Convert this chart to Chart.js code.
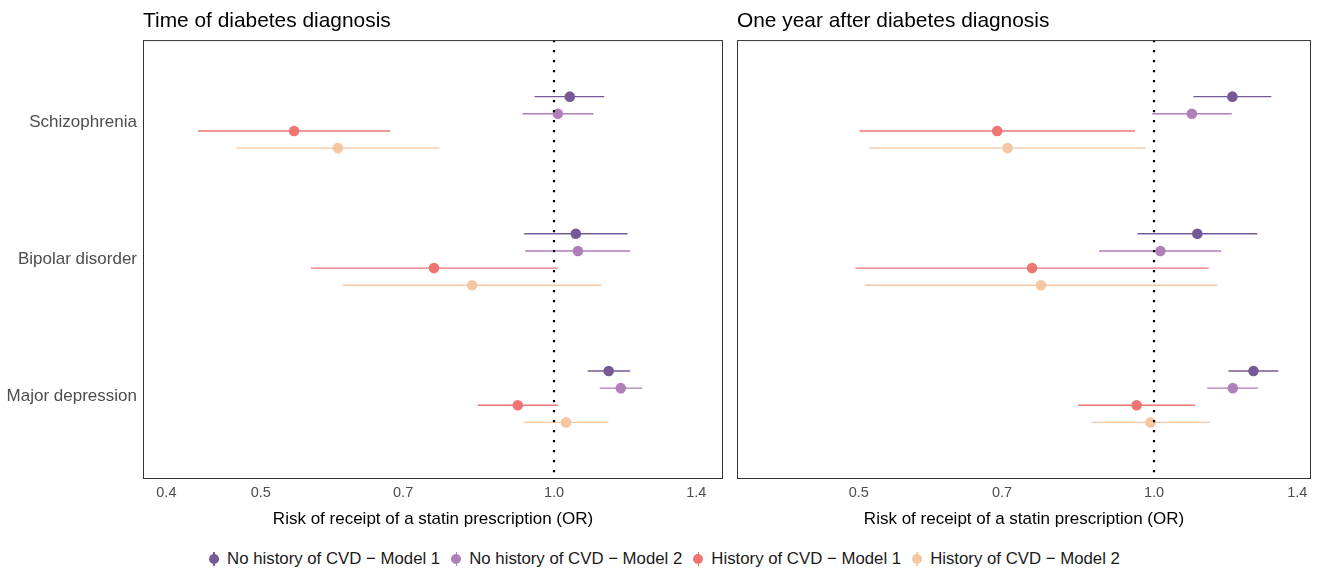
<!DOCTYPE html>
<html lang="en">
<head>
<meta charset="UTF-8">
<script src="https://cdn.jsdelivr.net/npm/chart.js@4"></script>
<title>Statin prescription forest plot</title>
<style>
  body { margin: 0; background: #fff; font-family: "Liberation Sans", Arial, sans-serif; }
  .page { position: relative; width: 1328px; height: 570px; overflow: hidden; }
  .panel { position: absolute; top: 0; height: 540px; }
  .legend { position: absolute; left: 0; top: 548px; width: 1328px; display: flex; justify-content: center; font-size: 16.8px; color: #1a1a1a; }
  .legend-item { display: flex; align-items: center; margin: 0 5px; }
  .key { position: relative; width: 12px; height: 22px; margin-right: 7px; }
  .key .bar { position: absolute; left: 5.3px; top: 4px; width: 1.4px; height: 14px; }
  .key .dot { position: absolute; left: 1px; top: 6px; width: 10px; height: 10px; border-radius: 50%; }
</style>
</head>
<body>
<div class="page">
  <div class="panel" style="left:0;width:730px"><canvas id="diagChart"></canvas></div>
  <div class="panel" style="left:730px;width:598px"><canvas id="yearChart"></canvas></div>
  <div class="legend" id="legend"></div>
</div>

<script>
    // categories (top to bottom) and series
    const categories = ['Schizophrenia', 'Bipolar disorder', 'Major depression'];
    const seriesNames = ['No history of CVD \u2212 Model 1', 'No history of CVD \u2212 Model 2',
        'History of CVD \u2212 Model 1', 'History of CVD \u2212 Model 2'];
    const seriesColors = ['#765a98', '#b07eb8', '#ef7474', '#f4c6a2'];

    // Time of diabetes diagnosis: one row per series, one value per category
    const diagOR = [
        [1.038, 1.053, 1.138],
        [1.009, 1.058, 1.171],
        [0.541, 0.753, 0.918],
        [0.600, 0.824, 1.029]
    ];
    const diagLow = [
        [0.955, 0.932, 1.083],
        [0.928, 0.934, 1.114],
        [0.431, 0.563, 0.835],
        [0.472, 0.607, 0.932]
    ];
    const diagHigh = [
        [1.126, 1.190, 1.197],
        [1.098, 1.197, 1.232],
        [0.679, 1.009, 1.009],
        [0.763, 1.119, 1.137]
    ];

    // One year after diabetes diagnosis
    const yearOR = [
        [1.202, 1.107, 1.263],
        [1.093, 1.015, 1.203],
        [0.692, 0.751, 0.960],
        [0.709, 0.767, 0.992]
    ];
    const yearLow = [
        [1.097, 0.962, 1.191],
        [0.996, 0.879, 1.133],
        [0.501, 0.496, 0.837],
        [0.512, 0.507, 0.863]
    ];
    const yearHigh = [
        [1.317, 1.274, 1.339],
        [1.200, 1.171, 1.276],
        [0.956, 1.137, 1.101],
        [0.981, 1.161, 1.140]
    ];

    const diagTicks = [0.4, 0.5, 0.7, 1.0, 1.4];
    const yearTicks = [0.5, 0.7, 1.0, 1.4];

    const dodge = [-0.1875, -0.0625, 0.0625, 0.1875];
    const FONT = '"Liberation Sans", Arial, sans-serif';

    // panel frame
    const frame = {
        id: 'frame',
        afterDraw(chart) {
            const a = chart.chartArea;
            const ctx = chart.ctx;
            ctx.save();
            ctx.strokeStyle = '#333333';
            ctx.lineWidth = 1;
            ctx.strokeRect(a.left + 0.5, a.top + 0.5, a.right - a.left - 1, a.bottom - a.top - 1);
            ctx.restore();
        }
    };

    function buildDatasets(or, low, high) {
        const sets = [];
        // reference line at OR = 1
        sets.push({
            type: 'line',
            data: [{ x: 1, y: 0.4 }, { x: 1, y: 3.6 }],
            borderColor: '#000',
            borderWidth: 2.2,
            borderDash: [2.2, 7.8],
            pointRadius: 0,
            order: 0
        });
        seriesNames.forEach((name, s) => {
            const bars = [];
            categories.forEach((c, i) => {
                const y = i + 1 + dodge[s];
                bars.push({ x: low[s][i], y: y }, { x: high[s][i], y: y }, { x: high[s][i], y: null });
            });
            sets.push({
                type: 'line',
                data: bars,
                borderColor: seriesColors[s],
                borderWidth: 1.4,
                pointRadius: 0,
                spanGaps: false,
                order: 2
            });
            sets.push({
                type: 'scatter',
                label: name,
                data: categories.map((c, i) => ({ x: or[s][i], y: i + 1 + dodge[s] })),
                backgroundColor: seriesColors[s],
                borderColor: seriesColors[s],
                borderWidth: 0,
                pointRadius: 5.3,
                order: 1
            });
        });
        return sets;
    }

    function makeChart(id, title, or, low, high, ticks, xmin, xmax, yWidth, rightPad, showCats) {
        const canvas = document.getElementById(id);
        return new Chart(canvas.getContext('2d'), {
            type: 'scatter',
            data: { datasets: buildDatasets(or, low, high) },
            options: {
                responsive: true,
                maintainAspectRatio: false,
                animation: false,
                layout: { padding: { left: 0, right: rightPad, top: 0, bottom: 0 } },
                plugins: {
                    legend: { display: false },
                    tooltip: { enabled: false },
                    title: {
                        display: true,
                        text: title,
                        align: 'start',
                        fullSize: false,
                        color: '#000',
                        font: { family: FONT, size: 20.9, weight: 'normal', lineHeight: 1.2 },
                        padding: { top: 9, bottom: 6 }
                    }
                },
                scales: {
                    x: {
                        type: 'logarithmic',
                        min: xmin,
                        max: xmax,
                        grid: { display: false, drawTicks: false },
                        border: { display: false },
                        afterBuildTicks: (scale) => { scale.ticks = ticks.map(v => ({ value: v })); },
                        afterFit: (scale) => { scale.height = 61; },
                        ticks: {
                            autoSkip: false,
                            maxRotation: 0,
                            padding: 5,
                            color: '#4d4d4d',
                            font: { family: FONT, size: 14.5 },
                            callback: (v) => Number(v).toFixed(1)
                        },
                        title: {
                            display: true,
                            text: 'Risk of receipt of a statin prescription (OR)',
                            color: '#000',
                            font: { family: FONT, size: 17, lineHeight: 1.2 },
                            padding: { top: 4, bottom: 10 }
                        }
                    },
                    y: {
                        type: 'linear',
                        min: 0.4,
                        max: 3.6,
                        reverse: true,
                        grid: { display: false, drawTicks: false },
                        border: { display: false },
                        afterBuildTicks: (scale) => { scale.ticks = categories.map((c, i) => ({ value: i + 1 })); },
                        afterFit: (scale) => { scale.width = yWidth; },
                        ticks: {
                            display: showCats,
                            autoSkip: false,
                            padding: 6,
                            color: '#4d4d4d',
                            font: { family: FONT, size: 17 },
                            callback: (v) => categories[Math.round(v) - 1]
                        }
                    }
                }
            },
            plugins: [frame]
        });
    }

    makeChart('diagChart', 'Time of diabetes diagnosis', diagOR, diagLow, diagHigh, diagTicks, 0.3785, 1.491, 143, 7, true);
    makeChart('yearChart', 'One year after diabetes diagnosis', yearOR, yearLow, yearHigh, yearTicks, 0.3757, 1.4456, 7, 17, false);

    // legend
    const legend = document.getElementById('legend');
    seriesNames.forEach((name, s) => {
        const item = document.createElement('div');
        item.className = 'legend-item';
        item.innerHTML = `<span class="key"><span class="bar" style="background:${seriesColors[s]}"></span>` +
            `<span class="dot" style="background:${seriesColors[s]}"></span></span><span>${name}</span>`;
        legend.appendChild(item);
    });
</script>
</body>
</html>
